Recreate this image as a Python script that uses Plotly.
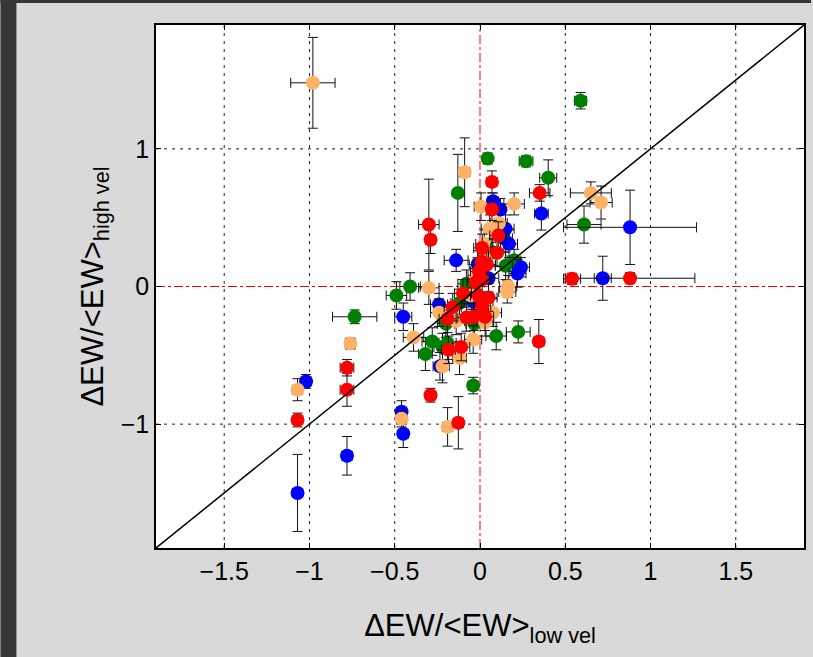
import plotly.graph_objects as go

# Relative equivalent-width changes: low-velocity vs high-velocity components
green_x = [0.59, 0.045, 0.27, 0.40, -0.13, 0.61, 0.14, 0.07, 0.20, 0.15, -0.41, -0.49, -0.735,
           -0.12, -0.033, -0.28, -0.22, -0.19, -0.32, 0.095, 0.224, -0.04, -0.20, -0.08]
green_y = [1.35, 0.93, 0.91, 0.79, 0.68, 0.45, 0.35, 0.25, 0.19, 0.15, 0.0, -0.065, -0.22,
           -0.12, -0.27, -0.40, -0.44, -0.41, -0.49, -0.36, -0.33, -0.72, -0.27, 0.02]
green_xe = [0.035, 0.02, 0.04, 0.05, 0.02, 0.10, 0.05, 0.05, 0.04, 0.06, 0.06, 0.06, 0.13,
            0.05, 0.05, 0.06, 0.05, 0.05, 0.04, 0.06, 0.07, 0.03, 0.05, 0.05]
green_ye = [0.06, 0.04, 0.04, 0.13, 0.28, 0.135, 0.10, 0.10, 0.08, 0.10, 0.10, 0.10, 0.05,
            0.10, 0.10, 0.10, 0.10, 0.12, 0.12, 0.10, 0.08, 0.06, 0.10, 0.10]

blue_x = [0.36, 0.88, 0.72, 0.076, 0.12, 0.15, 0.17, -0.14, 0.24, 0.22, -0.013, 0.05, -0.24,
          -0.45, -0.04, 0.018, -0.235, -1.02, -1.07, -0.78, -0.46, -0.45]
blue_y = [0.53, 0.43, 0.06, 0.62, 0.56, 0.42, 0.31, 0.19, 0.14, 0.095, 0.16, 0.06, -0.13,
          -0.22, -0.11, -0.18, -0.58, -0.69, -1.50, -1.23, -0.91, -1.07]
blue_xe = [0.04, 0.39, 0.05, 0.03, 0.03, 0.05, 0.05, 0.07, 0.05, 0.05, 0.05, 0.06, 0.05,
           0.05, 0.05, 0.05, 0.04, 0.03, 0.03, 0.03, 0.03, 0.03]
blue_ye = [0.12, 0.27, 0.16, 0.06, 0.08, 0.10, 0.10, 0.08, 0.07, 0.10, 0.10, 0.10, 0.08,
           0.10, 0.10, 0.10, 0.10, 0.05, 0.28, 0.14, 0.08, 0.10]

orange_x = [-0.98, -0.09, 0.20, 0.006, 0.65, 0.71, 0.057, 0.11, 0.025, 0.04, -0.02, 0.165,
            0.16, -0.30, -0.05, -0.24, -0.14, 0.03, 0.076, -0.39, -0.04, -0.12, -0.22, -0.76,
            -1.07, -0.46, -0.19]
orange_y = [1.48, 0.83, 0.60, 0.58, 0.68, 0.61, 0.42, 0.46, 0.31, 0.24, 0.08, 0.0,
            -0.04, -0.01, -0.065, -0.19, -0.25, -0.26, -0.19, -0.37, -0.385, -0.52, -0.58, -0.415,
            -0.75, -0.96, -1.02]
orange_xe = [0.13, 0.03, 0.06, 0.04, 0.12, 0.065, 0.05, 0.05, 0.05, 0.05, 0.05, 0.05,
             0.05, 0.06, 0.05, 0.05, 0.05, 0.05, 0.05, 0.06, 0.05, 0.04, 0.04, 0.03,
             0.03, 0.03, 0.03]
orange_ye = [0.33, 0.25, 0.08, 0.10, 0.08, 0.12, 0.10, 0.10, 0.10, 0.10, 0.10, 0.08,
             0.08, 0.12, 0.10, 0.10, 0.10, 0.10, 0.10, 0.10, 0.10, 0.12, 0.12, 0.04,
             0.08, 0.06, 0.14]

red_x = [0.07, 0.35, 0.07, -0.30, -0.29, 0.107, 0.013, 0.10, 0.01, 0.04, -0.006, -0.025,
         0.013, -0.006, 0.05, 0.013, -0.10, -0.16, -0.19, -0.08, -0.037, 0.03, -0.185, -0.11,
         0.345, 0.54, 0.88, -0.29, -0.127, -0.78, -0.78, -1.07]
red_y = [0.76, 0.68, 0.56, 0.45, 0.34, 0.37, 0.28, 0.245, 0.18, 0.16, 0.11, 0.03,
         0.05, -0.07, -0.08, -0.14, -0.05, -0.15, -0.235, -0.225, -0.22, -0.22, -0.46, -0.44,
         -0.40, 0.056, 0.06, -0.79, -0.99, -0.59, -0.75, -0.97]
red_xe = [0.03, 0.06, 0.03, 0.06, 0.03, 0.05, 0.05, 0.05, 0.05, 0.05, 0.05, 0.05,
          0.05, 0.05, 0.05, 0.05, 0.05, 0.05, 0.05, 0.05, 0.05, 0.05, 0.04, 0.05,
          0.03, 0.05, 0.38, 0.03, 0.03, 0.04, 0.04, 0.03]
red_ye = [0.08, 0.06, 0.08, 0.33, 0.10, 0.10, 0.10, 0.10, 0.10, 0.10, 0.10, 0.10,
          0.10, 0.10, 0.10, 0.10, 0.10, 0.10, 0.10, 0.10, 0.10, 0.10, 0.10, 0.10,
          0.16, 0.04, 0.04, 0.05, 0.19, 0.06, 0.12, 0.05]

tick_vals_x = [-1.5, -1, -0.5, 0, 0.5, 1, 1.5]
tick_vals_y = [-1, 0, 1]
axis_range = [-1.9, 1.9]

series = [
    ("green", "#008000", green_x, green_y, green_xe, green_ye),
    ("blue", "#0000ff", blue_x, blue_y, blue_xe, blue_ye),
    ("orange", "#ffb266", orange_x, orange_y, orange_xe, orange_ye),
    ("red", "#ff0000", red_x, red_y, red_xe, red_ye),
]

fig = go.Figure()
for name, color, xs, ys, xe, ye in series:
    fig.add_trace(go.Scatter(
        x=xs, y=ys, mode="markers", name=name,
        marker=dict(color=color, size=14, line=dict(width=0)),
        error_x=dict(type="data", array=xe, color="#111111", thickness=1, width=5),
        error_y=dict(type="data", array=ye, color="#111111", thickness=1, width=5),
        showlegend=False,
    ))

shapes = []
# dotted grid (the zero lines are drawn separately in red)
for v in tick_vals_x:
    if v != 0:
        shapes.append(dict(type="line", xref="x", yref="y", x0=v, x1=v,
                           y0=axis_range[0], y1=axis_range[1], layer="below",
                           line=dict(color="#222222", width=1, dash="3px,5px")))
for v in tick_vals_y:
    if v != 0:
        shapes.append(dict(type="line", xref="x", yref="y", y0=v, y1=v,
                           x0=axis_range[0], x1=axis_range[1], layer="below",
                           line=dict(color="#222222", width=1, dash="3px,5px")))
# red dash-dot zero lines
shapes.append(dict(type="line", xref="x", yref="y", x0=0, x1=0, y0=axis_range[0], y1=axis_range[1],
                   layer="below", line=dict(color="#ff0000", width=1, dash="dashdot")))
shapes.append(dict(type="line", xref="x", yref="y", y0=0, y1=0, x0=axis_range[0], x1=axis_range[1],
                   layer="below", line=dict(color="#ff0000", width=1, dash="dashdot")))
# one-to-one line
shapes.append(dict(type="line", xref="x", yref="y", x0=axis_range[0], y0=axis_range[0],
                   x1=axis_range[1], y1=axis_range[1], layer="above",
                   line=dict(color="black", width=1.5)))
# dark window frame on the left and top edges
W, H = 813, 657
L, R, T, B = 156, 7, 25, 109
pw, ph = W - L - R, H - T - B
def px_x(p):
    return (p - L) / pw
def px_y(p):
    return (H - B - p) / ph
shapes.append(dict(type="rect", xref="paper", yref="paper", x0=px_x(0), x1=px_x(16),
                   y0=px_y(H), y1=px_y(0), fillcolor="#363636", line=dict(width=0), layer="below"))
shapes.append(dict(type="rect", xref="paper", yref="paper", x0=px_x(0), x1=px_x(W),
                   y0=px_y(3), y1=px_y(0), fillcolor="#363636", line=dict(width=0), layer="below"))

font_family = "Liberation Sans, Arial, sans-serif"
axis_common = dict(
    range=axis_range, showgrid=False, zeroline=False, showline=True, linecolor="black",
    linewidth=1.5, mirror="ticks", ticks="inside", ticklen=5, tickcolor="black",
    tickfont=dict(family=font_family, size=25, color="black"),
)

fig.update_layout(
    width=W, height=H,
    margin=dict(l=L, r=R, t=T, b=B),
    paper_bgcolor="#d9d9d9", plot_bgcolor="white",
    shapes=shapes,
    xaxis=dict(axis_common, tickvals=tick_vals_x, ticktext=["\u22121.5", "\u22121", "\u22120.5", "0", "0.5", "1", "1.5"],
               title=dict(text="\u0394EW/<EW><sub>low vel</sub>", standoff=31,
                          font=dict(family=font_family, size=31, color="black"))),
    yaxis=dict(axis_common, tickvals=tick_vals_y, ticktext=["\u22121", "0", "1"],
               title=dict(text="\u0394EW/<EW><sub>high vel</sub>", standoff=8,
                          font=dict(family=font_family, size=31, color="black"))),
)

fig.write_html("out.html")
